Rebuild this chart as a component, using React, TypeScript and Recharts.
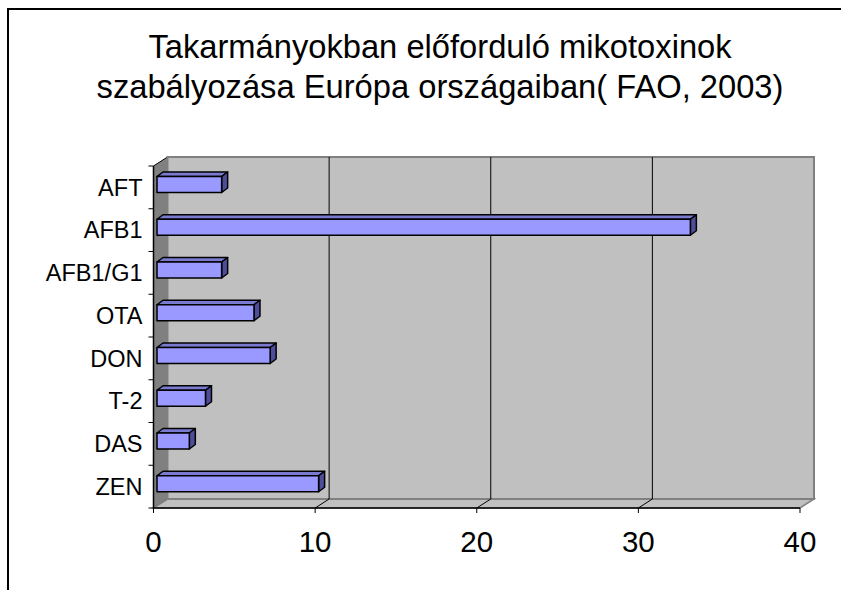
import { Bar, BarChart, ReferenceArea, XAxis, YAxis } from 'recharts';

const categories = ['AFT', 'AFB1', 'AFB1/G1', 'OTA', 'DON', 'T-2', 'DAS', 'ZEN'];
const values = [4, 33, 4, 6, 7, 3, 2, 10];
const xTicks = [0, 10, 20, 30, 40];
const titleLines = ['Takarmányokban előforduló mikotoxinok', 'szabályozása Európa országaiban( FAO, 2003)'];

const data = categories.map((name, i) => ({ name, value: values[i] }));

const FONT = "Arial, 'Liberation Sans', sans-serif";
const DEPTH_X = 14;
const DEPTH_Y = 9;

// back wall, side wall, floor and gridlines of the excel-like 3d plot
function Walls(props: any) {
  const { x, y, width, height } = props;
  const min = xTicks[0];
  const max = xTicks[xTicks.length - 1];
  const bottom = y + height;
  const band = height / categories.length;
  return (
    <g>
      <polygon
        points={`${x},${y} ${x + DEPTH_X},${y - DEPTH_Y} ${x + DEPTH_X},${bottom - DEPTH_Y} ${x},${bottom}`}
        fill="#808080"
        stroke="#000"
        strokeWidth={1}
      />
      <polygon
        points={`${x},${bottom} ${x + DEPTH_X},${bottom - DEPTH_Y} ${x + width + DEPTH_X},${bottom - DEPTH_Y} ${x + width},${bottom}`}
        fill="#C0C0C0"
        stroke="#808080"
        strokeWidth={1.5}
      />
      <rect
        x={x + DEPTH_X}
        y={y - DEPTH_Y}
        width={width}
        height={height}
        fill="#C0C0C0"
        stroke="#808080"
        strokeWidth={2}
      />
      {xTicks.slice(1, -1).map((t) => {
        const gx = x + ((t - min) / (max - min)) * width;
        return (
          <g key={t}>
            <line x1={gx + DEPTH_X} y1={y - DEPTH_Y} x2={gx + DEPTH_X} y2={bottom - DEPTH_Y} stroke="#000" strokeWidth={1} />
            <line x1={gx} y1={bottom} x2={gx + DEPTH_X} y2={bottom - DEPTH_Y} stroke="#000" strokeWidth={1} />
          </g>
        );
      })}
      {categories.map((_, i) => (
        <line key={i} x1={x - 5} y1={y + band * i} x2={x} y2={y + band * i} stroke="#000" strokeWidth={1} />
      ))}
      <line x1={x - 5} y1={bottom} x2={x} y2={bottom} stroke="#000" strokeWidth={1} />
    </g>
  );
}

function Bar3D(props: any) {
  const { x, y, width, height } = props;
  if (!width) return null;
  const fx = x + 3.5;
  const fy = y - 2.5;
  const dx = 6;
  const dy = 4.5;
  return (
    <g stroke="#000" strokeWidth={1.5} strokeLinejoin="round">
      <polygon
        points={`${fx},${fy} ${fx + width},${fy} ${fx + width + dx},${fy - dy} ${fx + dx},${fy - dy}`}
        fill="#7A7AD0"
      />
      <polygon
        points={`${fx + width},${fy} ${fx + width + dx},${fy - dy} ${fx + width + dx},${fy + height - dy} ${fx + width},${fy + height}`}
        fill="#4D4D99"
      />
      <rect x={fx} y={fy} width={width} height={height} fill="#9999FF" />
    </g>
  );
}

export default function App() {
  return (
    <div style={{ position: 'absolute', left: 0, top: 0, width: 841, height: 590, overflow: 'hidden', background: '#fff' }}>
      <div
        style={{
          position: 'absolute',
          left: 7,
          top: 8,
          width: 900,
          height: 700,
          borderLeft: '2px solid #000',
          borderTop: '2px solid #000',
        }}
      />
      <div
        style={{
          position: 'absolute',
          left: 0,
          top: 27,
          width: 880,
          textAlign: 'center',
          fontFamily: FONT,
          fontSize: 32.7,
          lineHeight: '40px',
          color: '#000',
          whiteSpace: 'nowrap',
        }}
      >
        {titleLines.map((line) => (
          <div key={line}>{line}</div>
        ))}
      </div>
      <div style={{ position: 'absolute', left: 0, top: 0 }}>
        <BarChart
          width={841}
          height={590}
          data={data}
          layout="vertical"
          margin={{ top: 166, right: 41, bottom: 22, left: 0 }}
        >
          <ReferenceArea x1={xTicks[0]} x2={xTicks[xTicks.length - 1]} shape={<Walls />} />
          <XAxis
            type="number"
            domain={[xTicks[0], xTicks[xTicks.length - 1]]}
            ticks={xTicks}
            height={60}
            axisLine={{ stroke: '#000', strokeWidth: 1.5 }}
            tickLine={{ stroke: '#000', strokeWidth: 1 }}
            tickSize={5}
            tickMargin={18}
            tick={{ fill: '#000', fontSize: 29.5, fontFamily: FONT }}
          />
          <YAxis
            type="category"
            dataKey="name"
            width={153.5}
            axisLine={{ stroke: '#000', strokeWidth: 1.5 }}
            tickLine={false}
            tickSize={0}
            tickMargin={11}
            tick={{ fill: '#000', fontSize: 23.5, fontFamily: FONT }}
            interval={0}
          />
          <Bar dataKey="value" barSize={16} shape={<Bar3D />} isAnimationActive={false} />
        </BarChart>
      </div>
    </div>
  );
}
